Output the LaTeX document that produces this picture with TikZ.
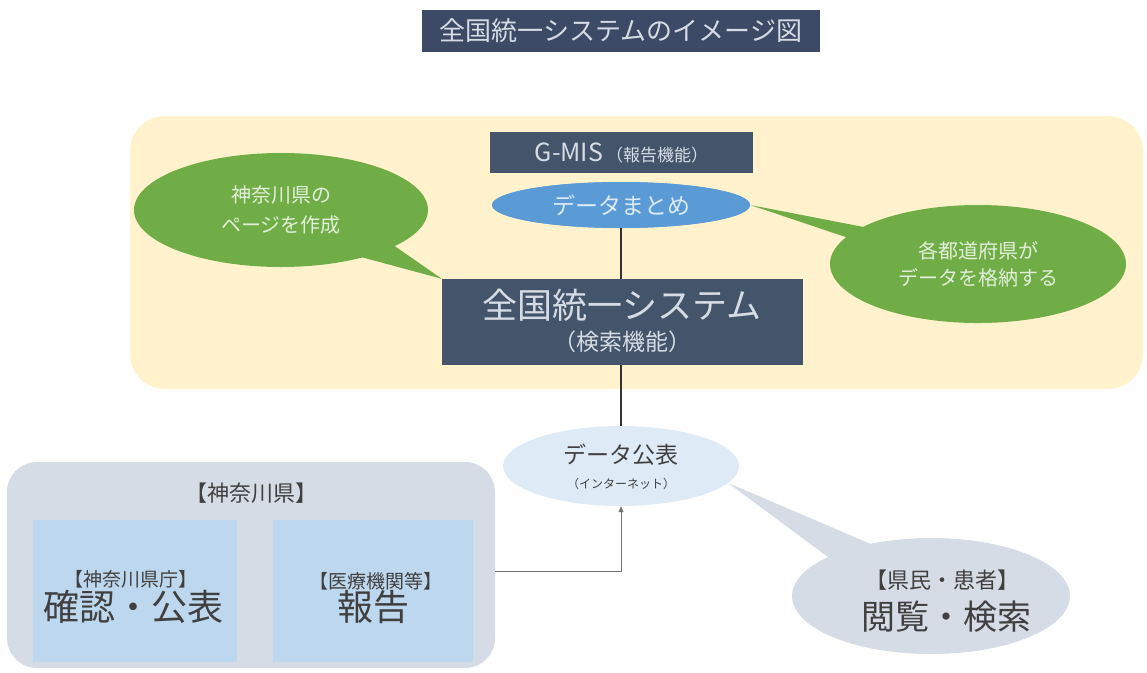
\documentclass[tikz,border=0pt]{standalone}
\usepackage{fontspec}
\setmainfont{Noto Sans CJK JP}
\usetikzlibrary{shapes.geometric,shapes.callouts,arrows.meta,calc}
\definecolor{navy}{HTML}{44546A}
\definecolor{titlebg}{HTML}{3D4A66}
\definecolor{lighttxt}{HTML}{D6DCE5}
\definecolor{cream}{HTML}{FFF2CC}
\definecolor{leaf}{HTML}{70AD47}
\definecolor{leaftxt}{HTML}{E2F0D9}
\definecolor{sky}{HTML}{5B9BD5}
\definecolor{skytxt}{HTML}{DDEBF7}
\definecolor{pale}{HTML}{DEEBF7}
\definecolor{grayblue}{HTML}{D6DCE5}
\definecolor{inner}{HTML}{BDD7EE}
\definecolor{darktxt}{HTML}{404040}
\newcommand\fsz[2]{\fontsize{#1}{#2}\selectfont}
\tikzset{
  darkbox/.style={rectangle, fill=navy, inner sep=0pt, text=lighttxt},
  greenbubble/.style={ellipse callout, fill=leaf, inner sep=0pt, text=leaftxt, align=center},
  graybubble/.style={ellipse callout, fill=grayblue, inner sep=0pt, text=darktxt, align=center},
  innerbox/.style={rectangle, fill=inner, inner sep=0pt, minimum width=202pt, minimum height=142pt},
  txt/.style={inner sep=0pt, text=darktxt},
  conn/.style={draw=black!80, line width=1.3pt},
  flow/.style={draw=black!55, line width=0.9pt, -{Triangle[length=6pt,width=5pt]}}
}
\begin{document}
\begin{tikzpicture}[x=1pt,y=-1pt]
\useasboundingbox (0,0) rectangle (1147,672);

% title
\node[darkbox, fill=titlebg, minimum width=398pt, minimum height=42pt, font=\fsz{26}{30}] (title) at (621,31) {全国統一システムのイメージ図};

% system panel
\node[rectangle, fill=cream, rounded corners=35pt, minimum width=1013pt, minimum height=273pt] (panel) at (636.5,252.5) {};

% G-MIS box and data ellipse
\node[darkbox, minimum width=263pt, minimum height=41pt] (gmis) at (621.5,152.5) {{\fsz{25}{29}G-MIS}\hspace{3pt}{\fsz{17}{20}（報告機能）}};
\node[ellipse, fill=sky, inner sep=0pt, minimum width=258pt, minimum height=46pt, text=skytxt, font=\fsz{23}{27}] (dm) at (621,205) {データまとめ};

% main system box
\node[darkbox, minimum width=361pt, minimum height=86pt] (main) at (622.5,322) {};
\node[inner sep=0pt, text=lighttxt, font=\fsz{35}{40}] (mainT1) at (622,305) {全国統一システム};
\node[inner sep=0pt, text=lighttxt, font=\fsz{23}{27}] (mainT2) at (622,342) {（検索機能）};

% green callouts
\node[greenbubble, minimum width=294pt, minimum height=114pt, callout absolute pointer={(main.north west)}, callout pointer arc=17, font=\fsz{20}{30}] (lb) at (281,210) {神奈川県の\\ページを作成};
\node[greenbubble, minimum width=296pt, minimum height=118pt, callout absolute pointer={(dm.east)}, callout pointer arc=12, font=\fsz{20}{27}] (rb) at (978,264) {各都道府県が\\データを格納する};

% redraw main box on top of the left callout tip
\node[darkbox, minimum width=361pt, minimum height=86pt] at (main) {};
\node[inner sep=0pt, text=lighttxt, font=\fsz{35}{40}] at (mainT1) {全国統一システム};
\node[inner sep=0pt, text=lighttxt, font=\fsz{23}{27}] at (mainT2) {（検索機能）};
\node[ellipse, fill=sky, inner sep=0pt, minimum width=258pt, minimum height=46pt, text=skytxt, font=\fsz{23}{27}] at (dm) {データまとめ};

% data publication ellipse
\node[ellipse, fill=pale, inner sep=0pt, minimum width=236pt, minimum height=80pt] (pub) at (621,466) {};
\node[txt, font=\fsz{23}{27}] (pubT1) at (621,455) {データ公表};
\node[txt, font=\fsz{12}{14}] (pubT2) at (621,484) {（インターネット）};

% citizens callout
\node[graybubble, minimum width=278pt, minimum height=116pt, callout absolute pointer={(pub.-9)}, callout pointer arc=22] (cit) at (931,596) {};
\node[txt, font=\fsz{22}{26}] (citT1) at (942,580) {【県民・患者】};
\node[txt, font=\fsz{34}{40}] (citT2) at (946,617) {閲覧・検索};

% Kanagawa panel
\node[rectangle, fill=grayblue, rounded corners=30pt, minimum width=488pt, minimum height=206pt] (kan) at (251,565) {};
\node[txt, font=\fsz{22}{26}] (kanT) at (251,493) {【神奈川県】};
\node[innerbox, minimum width=204pt] (gov) at (135,591) {};
\node[txt, font=\fsz{19}{22}] (govT1) at (131,579) {【神奈川県庁】};
\node[txt, font=\fsz{36}{42}] (govT2) at (133,607) {確認・公表};
\node[innerbox, minimum width=200pt] (med) at (373,591) {};
\node[txt, font=\fsz{19}{22}] (medT1) at (376,581) {【医療機関等】};
\node[txt, font=\fsz{36}{42}] (medT2) at (373,607) {報告};

% connectors
\draw[conn] (dm.south) -- (dm.south |- main.north);
\draw[conn] (main.south -| dm.south) -- (pub.north);
\draw[flow] ([yshift=-6pt]kan.east) -| (pub.south);
\end{tikzpicture}
\end{document}
